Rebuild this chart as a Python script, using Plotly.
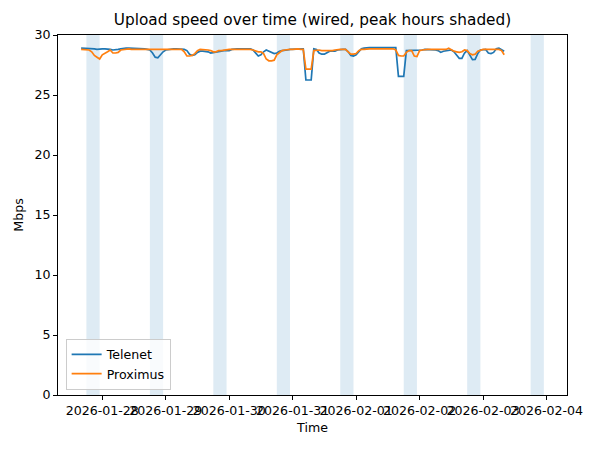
import pandas as pd
import plotly.graph_objects as go

# hourly samples, 2026-01-27 16:00 -> 2026-02-03 08:00
start = "2026-01-27 16:00"

telenet = (
    [28.9, 28.9, 28.9, 28.9, 28.85, 28.85, 28.8, 28.85]  # 01-27
    + [28.85, 28.85, 28.85, 28.8, 28.75, 28.75, 28.8, 28.85, 28.9, 28.9, 28.9, 28.9,
       28.9, 28.9, 28.9, 28.85, 28.85, 28.8, 28.75, 28.5, 28.15, 28.1, 28.35, 28.6]  # 01-28
    + [28.75, 28.8, 28.85, 28.85, 28.85, 28.85, 28.85, 28.8, 28.7, 28.4, 28.3, 28.35,
       28.55, 28.65, 28.65, 28.65, 28.6, 28.5, 28.55, 28.6, 28.65, 28.7, 28.7, 28.7]  # 01-29
    + [28.7, 28.8, 28.85, 28.85, 28.85, 28.85, 28.85, 28.85, 28.85, 28.75, 28.5, 28.25,
       28.35, 28.6, 28.75, 28.65, 28.5, 28.45, 28.5, 28.65, 28.7, 28.7, 28.75, 28.8]  # 01-30
    + [28.8, 28.85, 28.85, 28.85, 28.85, 26.25, 26.25, 26.25, 28.85, 28.8, 28.5, 28.4,
       28.4, 28.55, 28.65, 28.65, 28.65, 28.75, 28.8, 28.8, 28.8, 28.6, 28.3, 28.25]  # 01-31
    + [28.35, 28.65, 28.85, 28.9, 28.95, 28.95, 28.95, 28.95, 28.9, 28.95, 28.95, 28.95,
       28.95, 28.95, 28.95, 28.95, 26.55, 26.55, 26.55, 28.7, 28.7, 28.7, 28.7, 28.7]  # 02-01
    + [28.7, 28.75, 28.8, 28.8, 28.8, 28.75, 28.75, 28.7, 28.55, 28.65, 28.7, 28.75,
       28.75, 28.6, 28.3, 28.05, 28.05, 28.5, 28.7, 28.3, 27.95, 27.97, 28.45, 28.75]  # 02-02
    + [28.8, 28.8, 28.5, 28.45, 28.55, 28.85, 28.9, 28.75, 28.65]  # 02-03
)

proximus = (
    [28.8, 28.8, 28.8, 28.75, 28.6, 28.3, 28.15, 28.0]  # 01-27
    + [28.35, 28.45, 28.6, 28.75, 28.5, 28.5, 28.55, 28.75, 28.8, 28.8, 28.85, 28.8,
       28.8, 28.8, 28.8, 28.8, 28.8, 28.8, 28.8, 28.8, 28.8, 28.8, 28.8, 28.8]  # 01-28
    + [28.8, 28.8, 28.8, 28.8, 28.8, 28.8, 28.8, 28.6, 28.25, 28.25, 28.3, 28.45,
       28.7, 28.8, 28.8, 28.8, 28.75, 28.7, 28.6, 28.6, 28.7, 28.7, 28.75, 28.75]  # 01-29
    + [28.8, 28.8, 28.8, 28.8, 28.8, 28.85, 28.85, 28.8, 28.8, 28.75, 28.65, 28.6,
       28.6, 28.45, 28.0, 27.85, 27.85, 27.9, 28.35, 28.55, 28.7, 28.75, 28.8, 28.8]  # 01-30
    + [28.8, 28.85, 28.85, 28.8, 28.8, 27.15, 27.15, 27.15, 28.7, 28.75, 28.75, 28.7,
       28.7, 28.65, 28.65, 28.7, 28.75, 28.8, 28.8, 28.8, 28.8, 28.6, 28.4, 28.4]  # 01-31
    + [28.45, 28.7, 28.8, 28.8, 28.85, 28.85, 28.85, 28.85, 28.85, 28.85, 28.85, 28.85,
       28.85, 28.85, 28.85, 28.75, 28.3, 28.25, 28.25, 28.55, 28.7, 28.7, 28.25, 28.2]  # 02-01
    + [28.7, 28.75, 28.8, 28.8, 28.8, 28.8, 28.8, 28.8, 28.75, 28.75, 28.8, 28.9,
       28.75, 28.65, 28.6, 28.55, 28.6, 28.75, 28.7, 28.45, 28.35, 28.4, 28.65, 28.75]  # 02-02
    + [28.8, 28.8, 28.8, 28.85, 28.85, 28.85, 28.8, 28.7, 28.35]  # 02-03
)

peak_days = ["2026-01-27", "2026-01-28", "2026-01-29", "2026-01-30",
             "2026-01-31", "2026-02-01", "2026-02-02", "2026-02-03"]
peak_start, peak_end = 18, 23  # hours

t = pd.date_range(start, periods=len(telenet), freq="h")

fig = go.Figure()
fig.add_trace(go.Scatter(x=t, y=telenet, mode="lines", name="Telenet",
                         line=dict(color="#1f77b4", width=1.7)))
fig.add_trace(go.Scatter(x=t, y=proximus, mode="lines", name="Proximus",
                         line=dict(color="#ff7f0e", width=1.7)))

# shade the peak hours of each day
for d in peak_days:
    day = pd.Timestamp(d)
    fig.add_shape(type="rect", xref="x", yref="paper",
                  x0=day + pd.Timedelta(hours=peak_start), x1=day + pd.Timedelta(hours=peak_end),
                  y0=0, y1=1, fillcolor="#1f77b4", opacity=0.15, line_width=0, layer="below")

# page body has an 8px margin, so the margins are shifted to compensate
fig.update_layout(
    width=600, height=450,
    margin=dict(l=50, r=41, t=27, b=63),
    paper_bgcolor="white", plot_bgcolor="white",
    font=dict(family="DejaVu Sans", size=12.6, color="black"),
    title=dict(text="Upload speed over time (wired, peak hours shaded)", x=0.5, xref="paper",
               y=1 - 12 / 450, yref="container", xanchor="center", yanchor="middle",
               font=dict(size=15.3)),
    legend=dict(x=0.015, y=0.015, xanchor="left", yanchor="bottom",
                bgcolor="rgba(255,255,255,0.8)", bordercolor="#cccccc", borderwidth=1,
                font=dict(size=12.6)),
)

fig.update_xaxes(title_text="Time", title_font_size=12.6, title_standoff=6, automargin=False,
                 range=["2026-01-27 07:15", "2026-02-04 07:45"],
                 tickformat="%Y-%m-%d", dtick=86400000, tick0="2026-01-28", tickangle=0,
                 showline=True, linecolor="black", linewidth=1, mirror=True,
                 ticks="outside", ticklen=4, tickcolor="black", showgrid=False, zeroline=False)
fig.update_yaxes(title_text="Mbps", title_font_size=12.6, title_standoff=8, automargin=False,
                 range=[0, 30], dtick=5,
                 showline=True, linecolor="black", linewidth=1, mirror=True,
                 ticks="outside", ticklen=4, tickcolor="black", showgrid=False, zeroline=False)

fig.write_html("out.html")
